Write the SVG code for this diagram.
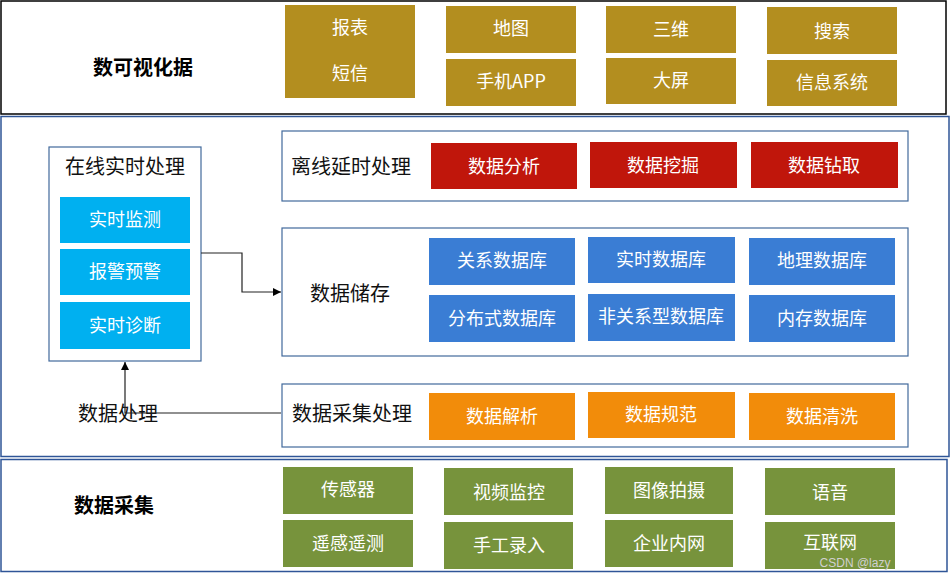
<svg xmlns="http://www.w3.org/2000/svg" width="951" height="573" viewBox="0 0 951 573">
<defs>
<marker id="arr" viewBox="0 0 10 10" refX="10" refY="5" markerWidth="8" markerHeight="8" markerUnits="userSpaceOnUse" orient="auto">
<path d="M0,0 L10,5 L0,10 Z" fill="#000"/>
</marker>
<style>
text{font-family:"Noto Sans CJK SC","Liberation Sans",sans-serif;text-anchor:middle}
.btn{fill:#fff;font-size:18px}
.lbl{fill:#111;font-size:20px}
.big{fill:#000;font-size:20px;font-weight:bold}
.gold{fill:#B38E1F}
.red{fill:#C0160B}
.blue{fill:#3A7DD4}
.cyan{fill:#00B0F0}
.orange{fill:#F28C0A}
.green{fill:#77933C}
.frame{fill:#fff;stroke:#41699C;stroke-width:1.2}
.panel{fill:#fff;stroke:#2F5597;stroke-width:1.5}
.conn{fill:none;stroke:#222;stroke-width:1.2}
</style>
</defs>
<rect width="951" height="573" fill="#fff"/>

<!-- panels -->
<g id="panel-visual">
<rect x="1" y="1" width="945" height="113" fill="#fff" stroke="#000" stroke-width="1.5"/>
<text class="big" x="143" y="75">数可视化据</text>
</g>
<g id="panel-process">
<rect class="panel" x="1" y="116.5" width="948" height="340"/>
</g>
<g id="panel-collect">
<rect class="panel" x="1" y="459.5" width="946" height="112"/>
<text class="big" x="114" y="513">数据采集</text>
</g>

<!-- top buttons -->
<g id="n-baobiao"><rect class="gold" x="285" y="5" width="130" height="93"/><text class="btn" x="350" y="34">报表</text><text class="btn" x="350" y="80">短信</text></g>
<g id="n-ditu"><rect class="gold" x="446" y="6" width="130" height="47"/><text class="btn" x="511" y="35">地图</text></g>
<g id="n-shouji"><rect class="gold" x="446" y="59" width="130" height="47"/><text class="btn" x="511" y="88">手机APP</text></g>
<g id="n-sanwei"><rect class="gold" x="606" y="6" width="130" height="47"/><text class="btn" x="671" y="36">三维</text></g>
<g id="n-daping"><rect class="gold" x="606" y="58" width="130" height="46"/><text class="btn" x="671" y="87">大屏</text></g>
<g id="n-sousuo"><rect class="gold" x="767" y="7" width="130" height="47"/><text class="btn" x="832" y="38">搜索</text></g>
<g id="n-xinxi"><rect class="gold" x="767" y="60" width="130" height="46"/><text class="btn" x="832" y="89">信息系统</text></g>

<!-- online -->
<g id="n-online">
<rect class="frame" x="49" y="147" width="152" height="214"/>
<text class="lbl" x="125" y="174">在线实时处理</text>
</g>
<g id="n-jiance"><rect class="cyan" x="60" y="197" width="130" height="46"/><text class="btn" x="125" y="226">实时监测</text></g>
<g id="n-baojing"><rect class="cyan" x="60" y="249" width="130" height="46"/><text class="btn" x="125" y="278">报警预警</text></g>
<g id="n-zhenduan"><rect class="cyan" x="60" y="302" width="130" height="47"/><text class="btn" x="125" y="332">实时诊断</text></g>

<!-- offline -->
<g id="n-offline">
<rect class="frame" x="282" y="131" width="626" height="70"/>
<text class="lbl" x="351" y="174">离线延时处理</text>
</g>
<g id="n-fenxi"><rect class="red" x="431" y="143" width="146" height="46"/><text class="btn" x="504" y="173">数据分析</text></g>
<g id="n-wajue"><rect class="red" x="590" y="142" width="147" height="46"/><text class="btn" x="663" y="172">数据挖掘</text></g>
<g id="n-zuanqu"><rect class="red" x="751" y="142" width="147" height="46"/><text class="btn" x="824" y="172">数据钻取</text></g>

<!-- storage -->
<g id="n-storage">
<rect class="frame" x="282" y="228" width="626" height="128"/>
<text class="lbl" x="350" y="301">数据储存</text>
</g>
<g id="n-guanxi"><rect class="blue" x="429" y="238" width="146" height="47"/><text class="btn" x="502" y="267">关系数据库</text></g>
<g id="n-shishi"><rect class="blue" x="588" y="237" width="147" height="46"/><text class="btn" x="661" y="266">实时数据库</text></g>
<g id="n-dili"><rect class="blue" x="749" y="238" width="146" height="47"/><text class="btn" x="822" y="267">地理数据库</text></g>
<g id="n-fenbu"><rect class="blue" x="429" y="295" width="146" height="47"/><text class="btn" x="502" y="325">分布式数据库</text></g>
<g id="n-feiguanxi"><rect class="blue" x="588" y="294" width="147" height="47"/><text class="btn" x="661" y="323">非关系型数据库</text></g>
<g id="n-neicun"><rect class="blue" x="749" y="295" width="146" height="47"/><text class="btn" x="822" y="325">内存数据库</text></g>

<!-- collection processing -->
<g id="n-collectproc">
<rect class="frame" x="282" y="384" width="626" height="63"/>
<text class="lbl" x="352" y="421">数据采集处理</text>
</g>
<g id="n-jiexi"><rect class="orange" x="429" y="393" width="146" height="47"/><text class="btn" x="502" y="423">数据解析</text></g>
<g id="n-guifan"><rect class="orange" x="588" y="392" width="147" height="46"/><text class="btn" x="661" y="421">数据规范</text></g>
<g id="n-qingxi"><rect class="orange" x="749" y="393" width="146" height="47"/><text class="btn" x="822" y="423">数据清洗</text></g>

<g id="n-dataproc"><text class="lbl" x="118" y="421">数据处理</text></g>

<!-- collection buttons -->
<g id="n-chuanganqi"><rect class="green" x="283" y="467" width="130" height="47"/><text class="btn" x="348" y="496">传感器</text></g>
<g id="n-shipin"><rect class="green" x="444" y="468" width="129" height="47"/><text class="btn" x="509" y="499">视频监控</text></g>
<g id="n-tuxiang"><rect class="green" x="605" y="467" width="128" height="47"/><text class="btn" x="669" y="497">图像拍摄</text></g>
<g id="n-yuyin"><rect class="green" x="765" y="468" width="130" height="47"/><text class="btn" x="830" y="499">语音</text></g>
<g id="n-yaogan"><rect class="green" x="283" y="520" width="130" height="47"/><text class="btn" x="348" y="550">遥感遥测</text></g>
<g id="n-shougong"><rect class="green" x="444" y="522" width="129" height="47"/><text class="btn" x="509" y="552">手工录入</text></g>
<g id="n-qiye"><rect class="green" x="605" y="520" width="128" height="47"/><text class="btn" x="669" y="550">企业内网</text></g>
<g id="n-hulian"><rect class="green" x="765" y="522" width="130" height="47"/><text class="btn" x="830" y="549">互联网</text></g>

<!-- connectors -->
<g id="connectors">
<path class="conn" d="M201,253 H242 V292 H281" marker-end="url(#arr)"/>
<path class="conn" d="M281,413 H125 V362" marker-end="url(#arr)"/>
</g>

<text x="855" y="567" style="font-family:'Liberation Sans',sans-serif;font-size:12px;fill:#d0d0d0">CSDN @lazy</text>
</svg>
